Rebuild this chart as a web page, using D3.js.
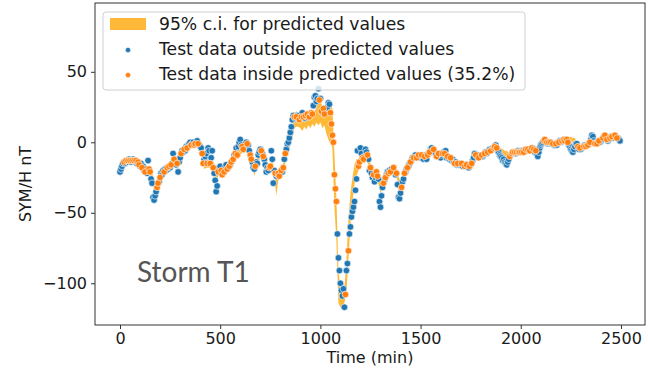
<!DOCTYPE html>
<html>
<head>
<meta charset="utf-8">
<script src="https://cdn.jsdelivr.net/npm/d3@7"></script>
<style>
  body { margin: 0; background: #fff; }
  svg { display: block; }
</style>
</head>
<body>
<svg id="chart" width="648" height="371"></svg>
<script>
// SYM-H test series, one value every 5 minutes (nT)
const STEP_MIN = 5;
const symH = [
  -21,-19,-17,-15,-14,-15,-13,-14,-13,-12,-13,-14,-13,-12,-13,-14,-13,-15,-14,-16,
  -17,-15,-18,-17,-20,-21,-19,-22,-13,-19,-21,-26,-29,-39,-41,-38,-35,-32,-29,-28,
  -25,-22,-23,-20,-21,-19,-20,-18,-19,-17,-18,-16,-15,-8,-12,-14,-16,-15,-21,-14,
  -11,-8,-6,-7,-5,-6,-3,-4,-2,-1,0,-2,-1,0,-2,-1,0,1,-1,-2,
  -3,-4,-8,-15,-12,-10,-8,-15,-4,-6,-15,-11,-6,-18,-22,-27,-35,-31,-21,-18,
  -17,-20,-23,-20,-21,-17,-16,-19,-18,-17,-16,-14,-13,-12,-9,-8,-4,-9,-3,0,
  2,-2,-3,-5,-4,-3,0,-1,-2,-6,-9,-12,-14,-18,-19,-17,-14,-15,-9,-7,
  -5,-6,-8,-10,-12,-16,-21,-18,-20,-18,-17,-6,-12,-29,-20,-22,-24,-23,-22,-24,
  -22,-20,-21,-18,-12,-8,-5,-1,0,3,7,11,16,19,18,17,18,19,17,16,
  17,18,21,18,17,19,18,20,19,18,20,21,20,26,32,33,29,31,38,30,
  31,22,21,24,20,22,24,25,28,27,21,13,5,0,-23,-33,-42,-65,-82,-91,
  -100,-105,-109,-104,-117,-108,-91,-86,-77,-65,-60,-53,-49,-46,-42,-34,-26,-6,-17,-14,
  -4,-8,-11,-12,-10,-5,-7,-9,-12,-20,-18,-22,-25,-23,-28,-25,-21,-24,-26,-42,
  -46,-38,-32,-29,-27,-25,-23,-21,-22,-20,-21,-19,-20,-18,-21,-23,-22,-30,-39,-40,
  -36,-32,-28,-26,-22,-21,-19,-18,-17,-15,-14,-13,-11,-11,-10,-9,-11,-10,-9,-10,
  -11,-9,-10,-12,-10,-9,-12,-9,-8,-7,-5,-4,-6,-5,-7,-8,-10,-9,-8,-10,
  -11,-9,-8,-7,-8,-6,-11,-10,-11,-12,-11,-13,-12,-14,-15,-14,-16,-15,-16,-15,
  -16,-15,-17,-16,-17,-16,-16,-17,-18,-17,-16,-15,-13,-11,-8,-9,-10,-9,-11,-10,
  -10,-9,-10,-9,-8,-7,-8,-7,-6,-5,-6,-5,-4,-4,-3,-2,-4,-6,-7,-9,
  -10,-11,-13,-12,-14,-15,-16,-14,-12,-10,-9,-8,-7,-8,-7,-8,-7,-6,-7,-7,
  -6,-7,-6,-7,-6,-5,-6,-5,-5,-6,-5,-4,-4,-5,-7,-6,-8,-10,-7,-4,
  -2,-1,0,1,2,1,0,-1,0,-1,0,-1,-1,-2,-2,-1,-2,0,0,1,
  0,1,1,2,1,2,2,0,-2,-3,-5,-6,-7,-5,-3,-1,-1,-3,-5,-4,
  -5,-4,-3,-3,-2,-3,-2,-2,-1,0,2,5,4,1,-1,0,-1,0,1,0,
  1,2,3,4,5,3,2,1,2,3,4,4,3,4,5,4,3,3,2,1
];

// 1 = observation falls inside the predicted interval (one row per 100 min)
const insideRows = [
  "00001010101010101011","00100100011000000110","10001001010100100100","01001001000100110010",
  "00110001001001000010","01101001010101010100","00110001001100010000","01010000011000010011",
  "01010100000000101001","01010101010110000001","01011000001111111000","00000100100000000011",
  "00110001001001001100","00010100101001001000","01001001001001001010","01001001010001001010",
  "00101001001000100100","01001010010100010010","01001001001001101000","00000000010110101011",
  "01010101010101010000","00011010101010010010","01011011000000000101","00010101010000101010",
  "00101010010100101000"
];

// 95% prediction interval, one value every 10 minutes (nT)
const CI_STEP_MIN = 10;
const ciLow = [
  -25,-19,-17,-16,-16,-16,-16,-16,-16,-17,
  -19,-20,-21,-22,-23,-24,-28,-33,-36,-33,
  -28,-25,-24,-22,-21,-20,-18,-16,-18,-18,
  -14,-11,-8,-7,-5,-4,-4,-4,-4,-4,
  -7,-12,-19,-18,-18,-18,-17,-22,-30,-24,
  -22,-25,-24,-22,-21,-19,-16,-13,-11,-12,
  -10,-7,-8,-6,-7,-12,-16,-24,-19,-16,
  -10,-12,-14,-18,-21,-20,-18,-24,-38,-27,
  -26,-23,-17,-12,-6,-2,4,10,11,11,
  10,8,11,9,12,10,13,11,14,12,
  14,10,12,6,2,-1,-4,-46,-70,-114,
  -117,-118,-114,-106,-84,-58,-42,-30,-24,-20,
  -18,-14,-15,-13,-16,-22,-25,-26,-26,-30,
  -36,-33,-29,-26,-25,-24,-22,-24,-25,-30,
  -36,-34,-25,-21,-19,-16,-14,-13,-13,-12,
  -13,-12,-12,-11,-9,-8,-8,-9,-12,-11,
  -11,-10,-10,-12,-13,-13,-14,-17,-17,-18,
  -18,-18,-19,-18,-19,-17,-14,-12,-12,-13,
  -12,-11,-10,-9,-9,-8,-7,-5,-6,-9,
  -8,-9,-10,-10,-12,-11,-9,-9,-9,-9,
  -9,-9,-8,-8,-8,-7,-7,-8,-7,-5,
  -3,-2,-1,-2,-2,-2,-3,-3,-3,-2,
  -2,-1,-1,-1,1,1,0,0,-3,-5,
  -6,-5,-4,-3,-2,-2,-2,-3,-2,-1,
  -1,1,2,0,1,2,2,3,1,0
];
const ciHigh = [
  -17,-13,-12,-11,-11,-11,-11,-11,-11,-12,
  -14,-15,-16,-17,-18,-19,-22,-27,-30,-27,
  -22,-19,-18,-16,-15,-14,-12,-10,-13,-12,
  -8,-5,-3,-1,0,1,1,1,2,1,
  -1,-6,-9,-11,-12,-12,-12,-15,-20,-18,
  -16,-19,-18,-17,-16,-14,-11,-7,-5,-4,
  -2,-1,-2,1,0,-6,-10,-14,-13,-9,
  -3,-5,-8,-12,-15,-15,-12,-19,-21,-20,
  -20,-17,-12,-3,0,3,10,20,22,21,
  21,20,21,22,21,22,23,22,24,31,
  29,26,25,22,25,27,24,-8,-40,-90,
  -104,-110,-103,-84,-54,-36,-25,-16,-12,-12,
  -9,-8,-9,-7,-9,-15,-18,-20,-19,-22,
  -26,-25,-22,-19,-18,-18,-16,-17,-20,-24,
  -28,-26,-19,-15,-13,-10,-8,-7,-8,-7,
  -8,-7,-8,-6,-4,-3,-3,-4,-7,-6,
  -6,-6,-6,-8,-8,-9,-10,-13,-13,-13,
  -13,-14,-15,-14,-15,-13,-10,-7,-8,-9,
  -8,-7,-6,-5,-5,-4,-3,-1,-2,-5,
  -4,-5,-6,-6,-8,-7,-5,-5,-5,-5,
  -5,-5,-4,-3,-4,-3,-3,-4,-3,-1,
  1,2,3,2,2,2,1,1,1,2,
  2,3,3,3,4,4,3,3,0,-1,
  -2,-1,0,1,2,2,2,1,2,3,
  3,5,7,4,5,6,6,7,5,4
];

const xTicks = [0, 500, 1000, 1500, 2000, 2500];
const yTicks = [-100, -50, 0, 50];
const xTitle = "Time (min)";
const yTitle = "SYM/H nT";
const stormName = "Storm T1";

const C_OUT = "#1f77b4";
const C_IN = "#ff7f0e";
const C_BAND = "#ffa500";

const flags = insideRows.join("");
const obs = symH.map((v, i) => ({ t: i * STEP_MIN, v, inside: flags[i] === "1" }));
const band = ciLow.map((lo, i) => ({ t: i * CI_STEP_MIN, lo, hi: ciHigh[i] }));
const nInside = obs.filter(d => d.inside).length;
const pctInside = (100 * nInside / obs.length).toFixed(1);

const svg = d3.select("#chart");
const plot = { left: 95, right: 645, top: 3, bottom: 325 };

const x = d3.scaleLinear().domain([-124.8, 2620]).range([plot.left, plot.right]);
const y = d3.scaleLinear().domain([-129.6, 98.8]).range([plot.bottom, plot.top]);

const FONT = "'DejaVu Sans', sans-serif";
const minus = s => String(s).replace("-", "\u2212");

// prediction band
svg.append("path")
  .datum(band)
  .attr("d", d3.area().x(d => x(d.t)).y0(d => y(d.lo)).y1(d => y(d.hi)))
  .attr("fill", C_BAND)
  .attr("fill-opacity", 0.78)
  .attr("stroke", "none");

// observations: outside first, inside drawn on top
const drawDots = (data, color) => svg.append("g")
  .selectAll("circle").data(data).join("circle")
  .attr("cx", d => x(d.t)).attr("cy", d => y(d.v))
  .attr("r", 3.3)
  .attr("fill", color)
  .attr("stroke", "#fff").attr("stroke-width", 0.6);
drawDots(obs.filter(d => !d.inside), C_OUT);
drawDots(obs.filter(d => d.inside), C_IN);

// axes
const xAxis = svg.append("g")
  .attr("transform", `translate(0,${plot.bottom})`)
  .call(d3.axisBottom(x).tickValues(xTicks).tickSize(4).tickPadding(4).tickFormat(d => minus(d)));
const yAxis = svg.append("g")
  .attr("transform", `translate(${plot.left},0)`)
  .call(d3.axisLeft(y).tickValues(yTicks).tickSize(4).tickPadding(4).tickFormat(d => minus(d)));
[xAxis, yAxis].forEach(g => {
  g.select(".domain").remove();
  g.selectAll(".tick line").attr("stroke", "#333").attr("stroke-width", 1);
  g.selectAll(".tick text").attr("fill", "#1a1a1a").style("font-family", FONT).style("font-size", "16px");
});

// frame
svg.append("rect")
  .attr("x", plot.left).attr("y", plot.top)
  .attr("width", plot.right - plot.left).attr("height", plot.bottom - plot.top)
  .attr("fill", "none").attr("stroke", "#333").attr("stroke-width", 1);

// axis titles
svg.append("text")
  .attr("x", (plot.left + plot.right) / 2).attr("y", 363)
  .attr("text-anchor", "middle")
  .style("font-family", FONT).style("font-size", "16px").attr("fill", "#1a1a1a")
  .text(xTitle);
svg.append("text")
  .attr("transform", "translate(31,184) rotate(-90)")
  .attr("text-anchor", "middle")
  .style("font-family", FONT).style("font-size", "16px").attr("fill", "#1a1a1a")
  .text(yTitle);

// legend
const legend = svg.append("g");
legend.append("rect")
  .attr("x", 103).attr("y", 12).attr("width", 422).attr("height", 78)
  .attr("rx", 3).attr("fill", "#fff").attr("fill-opacity", 0.8)
  .attr("stroke", "#d0d0d0").attr("stroke-width", 1);
const legendItems = [
  { kind: "band", label: "95% c.i. for predicted values" },
  { kind: "dot", color: C_OUT, label: "Test data outside predicted values" },
  { kind: "dot", color: C_IN, label: `Test data inside predicted values (${pctInside}%)` }
];
legendItems.forEach((it, i) => {
  const cy = 24 + i * 25;
  if (it.kind === "band") {
    legend.append("rect").attr("x", 110).attr("y", cy - 6).attr("width", 36).attr("height", 12)
      .attr("fill", C_BAND).attr("fill-opacity", 0.78);
  } else {
    legend.append("circle").attr("cx", 128).attr("cy", cy + 1).attr("r", 2.6)
      .attr("fill", it.color).attr("stroke", "#fff").attr("stroke-width", 0.5);
  }
  legend.append("text")
    .attr("x", 159).attr("y", cy + 6)
    .style("font-family", FONT).style("font-size", "17.2px").attr("fill", "#1a1a1a")
    .text(it.label);
});

// storm name
svg.append("text")
  .attr("x", 137).attr("y", 282)
  .style("font-family", "Lato, 'Open Sans', sans-serif").style("font-size", "28px")
  .attr("fill", "#555")
  .text(stormName);
</script>
</body>
</html>
